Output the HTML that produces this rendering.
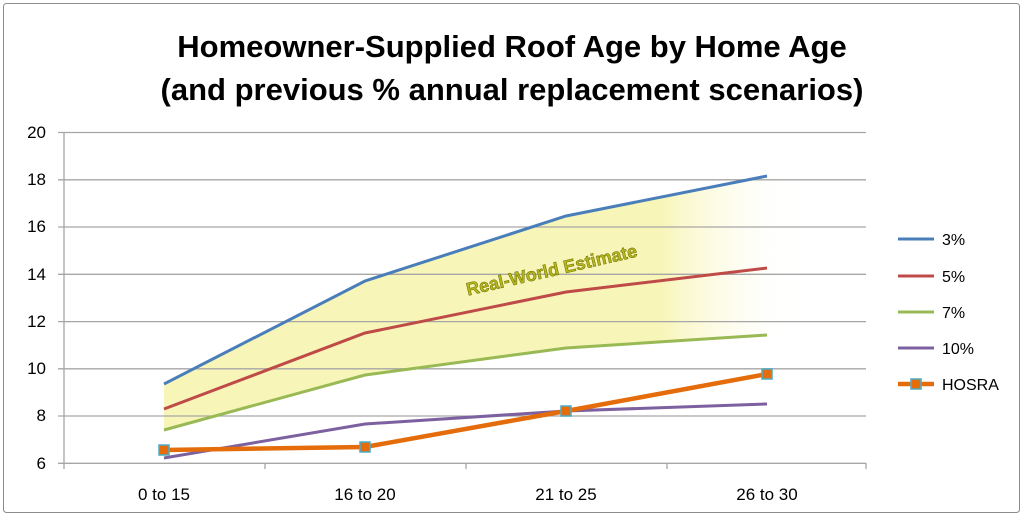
<!DOCTYPE html><html><head><style>body{margin:0;background:#fff}</style></head><body>
<svg width="1024" height="517" xmlns="http://www.w3.org/2000/svg" font-family="Liberation Sans, sans-serif">
<defs><linearGradient id="g" gradientUnits="userSpaceOnUse" x1="164" y1="0" x2="800" y2="0">
<stop offset="0" stop-color="#f8f5b8"/><stop offset="0.78" stop-color="#f8f5b8"/><stop offset="1" stop-color="#ffffff" stop-opacity="0"/></linearGradient></defs>
<rect x="3.5" y="3.5" width="1016" height="509" fill="#fff" stroke="#8c8c8c" rx="3"/>
<text x="512" y="57" text-anchor="middle" font-size="31" font-weight="bold" fill="#000">Homeowner-Supplied Roof Age by Home Age</text>
<text x="512" y="100" text-anchor="middle" font-size="31" font-weight="bold" fill="#000">(and previous % annual replacement scenarios)</text>
<polygon points="164,384 365,281 566,216 767,176 800,176 800,335 767,335 566,348 365,375 164,430" fill="url(#g)"/>
<g stroke="#a6a6a6" stroke-width="1.3">
<line x1="58" x2="866" y1="132.5" y2="132.5"/><line x1="58" x2="866" y1="179.8" y2="179.8"/><line x1="58" x2="866" y1="227" y2="227"/><line x1="58" x2="866" y1="274.3" y2="274.3"/><line x1="58" x2="866" y1="321.6" y2="321.6"/><line x1="58" x2="866" y1="368.8" y2="368.8"/><line x1="58" x2="866" y1="416" y2="416"/><line x1="58" x2="866" y1="463.3" y2="463.3"/>
<line x1="64" x2="64" y1="132" y2="469"/><line x1="265" x2="265" y1="463" y2="469"/><line x1="466" x2="466" y1="463" y2="469"/><line x1="667" x2="667" y1="463" y2="469"/><line x1="866" x2="866" y1="463" y2="469"/>
</g>
<g font-size="17" fill="#000" text-anchor="end">
<text x="46" y="138">20</text><text x="46" y="185">18</text><text x="46" y="232">16</text><text x="46" y="280">14</text><text x="46" y="327">12</text><text x="46" y="374">10</text><text x="46" y="421">8</text><text x="46" y="469">6</text></g>
<g font-size="17" fill="#000" text-anchor="middle">
<text x="164" y="500">0 to 15</text><text x="365" y="500">16 to 20</text><text x="566" y="500">21 to 25</text><text x="767" y="500">26 to 30</text></g>
<text transform="translate(553,276) rotate(-13)" text-anchor="middle" font-size="18" font-weight="bold" fill="#b5b81a" stroke="#6b6b00" stroke-width="0.5">Real-World Estimate</text>
<g fill="none" stroke-width="3">
<polyline points="164,384 365,281 566,216 767,176" stroke="#4a7ebb"/>
<polyline points="164,409 365,333 566,292 767,268" stroke="#be4b48"/>
<polyline points="164,430 365,375 566,348 767,335" stroke="#98b954"/>
<polyline points="164,458 365,424 566,411 767,404" stroke="#7d60a0"/>
<polyline points="164,450 365,447 566,411 767,374" stroke="#e46c0a" stroke-width="4.5"/>
</g>
<g fill="#e46c0a" stroke="#4bacc6" stroke-width="1.5">
<rect x="159" y="445" width="10" height="10"/><rect x="360" y="442" width="10" height="10"/><rect x="561" y="406" width="10" height="10"/><rect x="762" y="369" width="10" height="10"/></g>
<g font-size="16" fill="#000">
<line x1="898" x2="934" y1="239" y2="239" stroke="#4a7ebb" stroke-width="3"/><text x="942" y="245">3%</text>
<line x1="898" x2="934" y1="276" y2="276" stroke="#be4b48" stroke-width="3"/><text x="942" y="282">5%</text>
<line x1="898" x2="934" y1="312" y2="312" stroke="#98b954" stroke-width="3"/><text x="942" y="318">7%</text>
<line x1="898" x2="934" y1="348" y2="348" stroke="#7d60a0" stroke-width="3"/><text x="942" y="354">10%</text>
<line x1="898" x2="934" y1="384" y2="384" stroke="#e46c0a" stroke-width="4.5"/><rect x="911" y="379" width="10" height="10" fill="#e46c0a" stroke="#4bacc6" stroke-width="1.5"/><text x="942" y="390">HOSRA</text>
</g>
</svg></body></html>
